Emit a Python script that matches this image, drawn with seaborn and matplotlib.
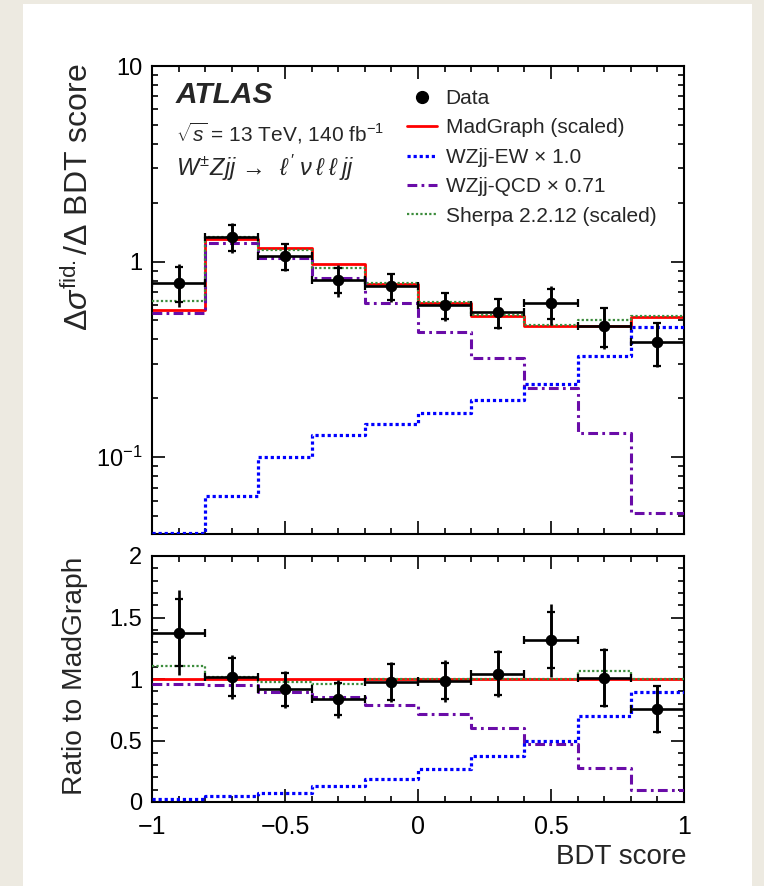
import numpy as np
import pandas as pd
import matplotlib
matplotlib.use("Agg")
import matplotlib.pyplot as plt
import seaborn as sns
from matplotlib import font_manager
from matplotlib.lines import Line2D
from matplotlib.patches import Rectangle
from matplotlib.ticker import (FixedLocator, FixedFormatter, MultipleLocator,
                               NullFormatter, LogLocator)

# ---------------- data ----------------
bin_edges = [-1.0, -0.8, -0.6, -0.4, -0.2, 0.0, 0.2, 0.4, 0.6, 0.8, 1.0]

data_xs = [0.78, 1.34, 1.07, 0.81, 0.75, 0.60, 0.55, 0.615, 0.47, 0.39]
madgraph_xs = [0.569, 1.31, 1.17, 0.973, 0.77, 0.615, 0.53, 0.468, 0.468, 0.52]
ew_xs = [0.041, 0.0635, 0.100, 0.130, 0.148, 0.168, 0.197, 0.237, 0.328, 0.465]
qcd_xs = [0.545, 1.24, 1.045, 0.825, 0.615, 0.438, 0.322, 0.225, 0.133, 0.052]
sherpa_xs = [0.63, 1.34, 1.145, 0.925, 0.775, 0.62, 0.535, 0.472, 0.50, 0.525]

data_ratio = [1.377, 1.016, 0.916, 0.837, 0.976, 0.984, 1.044, 1.315, 1.011, 0.759]
data_err_total = [0.343, 0.176, 0.149, 0.152, 0.163, 0.167, 0.190, 0.298, 0.240, 0.195]
data_err_stat = [0.275, 0.156, 0.136, 0.127, 0.144, 0.146, 0.176, 0.228, 0.228, 0.188]
madgraph_ratio = [1.0, 1.0, 1.0, 1.0, 1.0, 1.0, 1.0, 1.0, 1.0, 1.0]
ew_ratio = [0.028, 0.047, 0.076, 0.128, 0.184, 0.266, 0.372, 0.494, 0.697, 0.894]
qcd_ratio = [0.957, 0.948, 0.894, 0.854, 0.790, 0.713, 0.604, 0.474, 0.276, 0.095]
sherpa_ratio = [1.103, 1.02, 0.976, 0.957, 1.003, 1.003, 1.003, 1.003, 1.062, 1.003]

legend_labels = ["Data", "MadGraph (scaled)", "WZjj-EW \u00d7 1.0",
                 "WZjj-QCD \u00d7 0.71", "Sherpa 2.2.12 (scaled)"]
x_tick_values = [-1, -0.5, 0, 0.5, 1]
x_tick_labels = ["\u22121", "\u22120.5", "0", "0.5", "1"]
y_top_tick_values = [0.1, 1, 10]
y_top_tick_labels = [r"$10^{-1}$", "1", "10"]
y_bot_tick_values = [0, 0.5, 1, 1.5, 2]
y_bot_tick_labels = ["0", "0.5", "1", "1.5", "2"]

# ---------------- style ----------------
sns.set_theme(style="white")


def has_font(name):
    try:
        font_manager.findfont(font_manager.FontProperties(family=name),
                              fallback_to_default=False)
        return True
    except Exception:
        return False


REG = "Liberation Sans" if has_font("Liberation Sans") else "DejaVu Sans"

plt.rcParams["font.family"] = [REG, "DejaVu Sans"]
plt.rcParams["mathtext.fontset"] = "custom"
plt.rcParams["mathtext.rm"] = REG
plt.rcParams["mathtext.it"] = REG + ":italic"
plt.rcParams["mathtext.bf"] = REG + ":bold"
plt.rcParams["axes.unicode_minus"] = True

W, H = 764, 886
fig = plt.figure(figsize=(W / 100, H / 100), dpi=100)
fig.patch.set_facecolor("#EDEAE1")


def fx(x):
    return x / W


def fy(y):
    return 1 - y / H


# white card
fig.add_artist(Rectangle((fx(23), 0), fx(752) - fx(23), fy(4), transform=fig.transFigure,
                         facecolor="white", edgecolor="none", zorder=0))

ax_l, ax_r = 152, 684
ax1 = fig.add_axes([fx(ax_l), fy(534), fx(ax_r) - fx(ax_l), fy(66) - fy(534)])
ax2 = fig.add_axes([fx(ax_l), fy(802), fx(ax_r) - fx(ax_l), fy(556) - fy(802)])

RED = "#FF0000"
BLUE = "#0000FF"
PURPLE = "#6A0CA8"
GREEN = "#3C8C3C"

styles = {
    "mg": dict(color=RED, lw=2.0, linestyle="-"),
    "ew": dict(color=BLUE, lw=2.3, linestyle=(0, (1.0, 0.9))),
    "qcd": dict(color=PURPLE, lw=2.2, linestyle=(0, (3.2, 1.4, 0.9, 1.4))),
    "sherpa": dict(color=GREEN, lw=1.6, linestyle=(0, (1.0, 1.0))),
}

edges = np.array(bin_edges)
centers = 0.5 * (edges[:-1] + edges[1:])
halfw = 0.5 * np.diff(edges)


def step(ax, vals, key, z):
    y = np.append(np.asarray(vals, float), vals[-1])
    df = pd.DataFrame({"x": edges, "y": y})
    sns.lineplot(data=df, x="x", y="y", ax=ax, drawstyle="steps-post", sort=False,
                 estimator=None, zorder=z, **styles[key])


def data_points(ax, yv, err_tot, err_stat):
    yv = np.asarray(yv, float)
    ax.vlines(centers, yv - err_tot[0], yv + err_tot[1], color="black", lw=1.9, zorder=6)
    ax.errorbar(centers, yv, xerr=halfw, yerr=err_stat, fmt="none", ecolor="black",
                elinewidth=1.9, capsize=2.6, capthick=1.6, zorder=7)
    sns.scatterplot(x=centers, y=yv, ax=ax, color="black", s=70, marker="o",
                    edgecolor="black", linewidth=0, zorder=8)


# ---------------- top panel ----------------
for vals, key, z in [(qcd_xs, "qcd", 3), (ew_xs, "ew", 3), (sherpa_xs, "sherpa", 4),
                     (madgraph_xs, "mg", 2)]:
    step(ax1, vals, key, z)

dxs = np.asarray(data_xs)
rel_tot = np.asarray(data_err_total) / np.asarray(data_ratio)
rel_stat = np.asarray(data_err_stat) / np.asarray(data_ratio)
data_points(ax1, dxs, (dxs * rel_tot, dxs * rel_tot), dxs * rel_stat)

ax1.set_yscale("log")
ax1.set_ylim(0.0405, 10)
ax1.set_xlim(-1, 1)

# ---------------- ratio panel ----------------
for vals, key, z in [(qcd_ratio, "qcd", 3), (ew_ratio, "ew", 3), (sherpa_ratio, "sherpa", 4),
                     (madgraph_ratio, "mg", 2)]:
    step(ax2, vals, key, z)
dr = np.asarray(data_ratio)
data_points(ax2, dr, (np.asarray(data_err_total), np.asarray(data_err_total)),
            np.asarray(data_err_stat))
ax2.set_ylim(0, 2)
ax2.set_xlim(-1, 1)

# ---------------- axes cosmetics ----------------
for ax in (ax1, ax2):
    ax.set_facecolor("white")
    ax.set_xlabel("")
    ax.set_ylabel("")
    for s in ax.spines.values():
        s.set_linewidth(1.5)
        s.set_color("black")
        s.set_visible(True)
    ax.tick_params(which="both", direction="in", top=True, right=True, bottom=True, left=True,
                   colors="black", width=1.2)
    ax.tick_params(which="major", length=9.5, labelsize=17, pad=7)
    ax.tick_params(which="minor", length=4.5)
    ax.xaxis.set_major_locator(FixedLocator(x_tick_values))
    ax.xaxis.set_minor_locator(MultipleLocator(0.1))
    ax.grid(False)

ax1.yaxis.set_major_locator(FixedLocator(y_top_tick_values))
ax1.yaxis.set_major_formatter(FixedFormatter(y_top_tick_labels))
ax1.yaxis.set_minor_locator(LogLocator(base=10, subs=np.arange(2, 10)))
ax1.yaxis.set_minor_formatter(NullFormatter())
ax1.xaxis.set_major_formatter(NullFormatter())

ax2.yaxis.set_major_locator(FixedLocator(y_bot_tick_values))
ax2.yaxis.set_major_formatter(FixedFormatter(y_bot_tick_labels))
ax2.yaxis.set_minor_locator(MultipleLocator(0.1))
ax2.xaxis.set_major_formatter(FixedFormatter(x_tick_labels))
ax2.tick_params(axis="x", which="major", pad=9, labelsize=18)

# axis titles
fig.text(fx(686), fy(864), "BDT score", ha="right", va="baseline", fontsize=20)
fig.text(fx(88), fy(64), r"$\mathit{\Delta\sigma}^{\mathrm{fid.}}/\mathit{\Delta}$ BDT score",
         rotation=90, rotation_mode="anchor", ha="right", va="baseline", fontsize=23)
fig.text(fx(82), fy(557), "Ratio to MadGraph", rotation=90, rotation_mode="anchor",
         ha="right", va="baseline", fontsize=20.3)

# labels
fig.text(fx(176), fy(103), "ATLAS", fontsize=21.5, fontweight="bold", fontstyle="italic",
         ha="left", va="baseline")
fig.text(fx(176), fy(133), r"$\sqrt{s}$ = 13 TeV, 140 fb$^{-1}$", fontsize=15,
         ha="left", va="center")
fig.text(fx(176), fy(168),
         r"$W^{\pm}Zjj\,\rightarrow\,\ \ell^{\,\prime}\;\nu\,\ell\;\ell\;jj$",
         fontsize=17, ha="left", va="center")

# legend
handles = [
    Line2D([], [], color="black", marker="o", markersize=8.5, linestyle="none"),
    Line2D([], [], **styles["mg"]),
    Line2D([], [], **styles["ew"]),
    Line2D([], [], **styles["qcd"]),
    Line2D([], [], **styles["sherpa"]),
]
fig.legend(handles, legend_labels, loc="upper left", bbox_to_anchor=(fx(407), fy(89)),
           bbox_transform=fig.transFigure, frameon=False, fontsize=15, borderpad=0,
           borderaxespad=0, handlelength=1.45, handletextpad=0.4, labelspacing=0.5,
           numpoints=1)

fig.savefig("out.png", dpi=100, facecolor=fig.get_facecolor())
